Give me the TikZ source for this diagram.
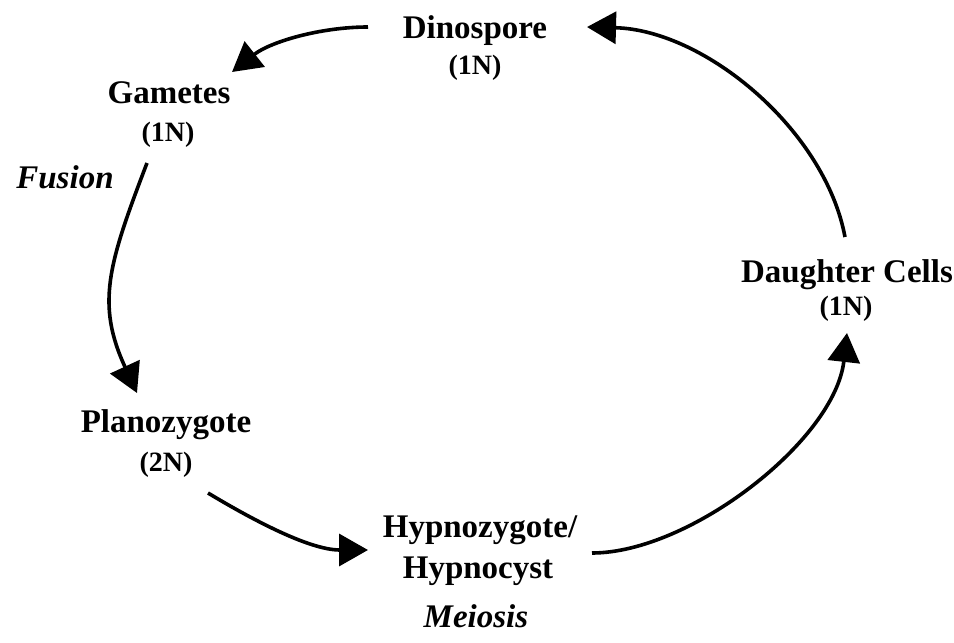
\documentclass[tikz,border=0pt]{standalone}
\usepackage{fontspec}
\setmainfont{Liberation Serif}
\usetikzlibrary{arrows.meta}
\tikzset{
  stage/.style={font=\fontsize{33}{38}\selectfont\bfseries, inner sep=0pt, anchor=base},
  ploidy/.style={font=\fontsize{28}{32}\selectfont\bfseries, inner sep=0pt, anchor=base},
  process/.style={font=\fontsize{33}{38}\selectfont\bfseries\itshape, inner sep=0pt, anchor=base},
  cyclearrow/.style={line width=3.6pt, -{Triangle[length=29pt,width=32pt]}}
}
\begin{document}
\begin{tikzpicture}[x=1pt,y=-1pt]
\useasboundingbox (0,0) rectangle (954,643);
% labels
\node[stage] (dino) at (475,38) {Dinospore};
\node[ploidy] (dinoN) at (475,74) {(1N)};
\node[stage] (gam) at (169,103) {Gametes};
\node[ploidy] (gamN) at (168,141) {(1N)};
\node[process] (fusion) at (65,188) {Fusion};
\node[stage] (plano) at (166,432) {Planozygote};
\node[ploidy] (planoN) at (166,471) {(2N)};
\node[stage] (hypno) at (480,537) {Hypnozygote/};
\node[stage] (hypnoB) at (478,578) {Hypnocyst};
\node[process] (meiosis) at (476,627) {Meiosis};
\node[stage] (daught) at (847,282) {Daughter Cells};
\node[ploidy] (daughtN) at (846,315) {(1N)};
% connector ends
\coordinate (a1) at (368,27);  \coordinate (a2) at (232,72);
\coordinate (b1) at (147,163); \coordinate (b2) at (137,393);
\coordinate (c1) at (208,493); \coordinate (c2) at (368,550);
\coordinate (d1) at (592,553); \coordinate (d2) at (847,333);
\coordinate (e1) at (845,237); \coordinate (e2) at (587,27);
% connectors
\draw[cyclearrow] (a1) .. controls (320,27) and (270,42) .. (a2);
\draw[cyclearrow] (b1) .. controls (108,265) and (96,304) .. (b2);
\draw[cyclearrow] (c1) .. controls (248,517) and (308,550) .. (c2);
\draw[cyclearrow] (d1) .. controls (690,553) and (835,440) .. (d2);
\draw[cyclearrow] (e1) .. controls (825,130) and (705,30) .. (e2);
\end{tikzpicture}
\end{document}
